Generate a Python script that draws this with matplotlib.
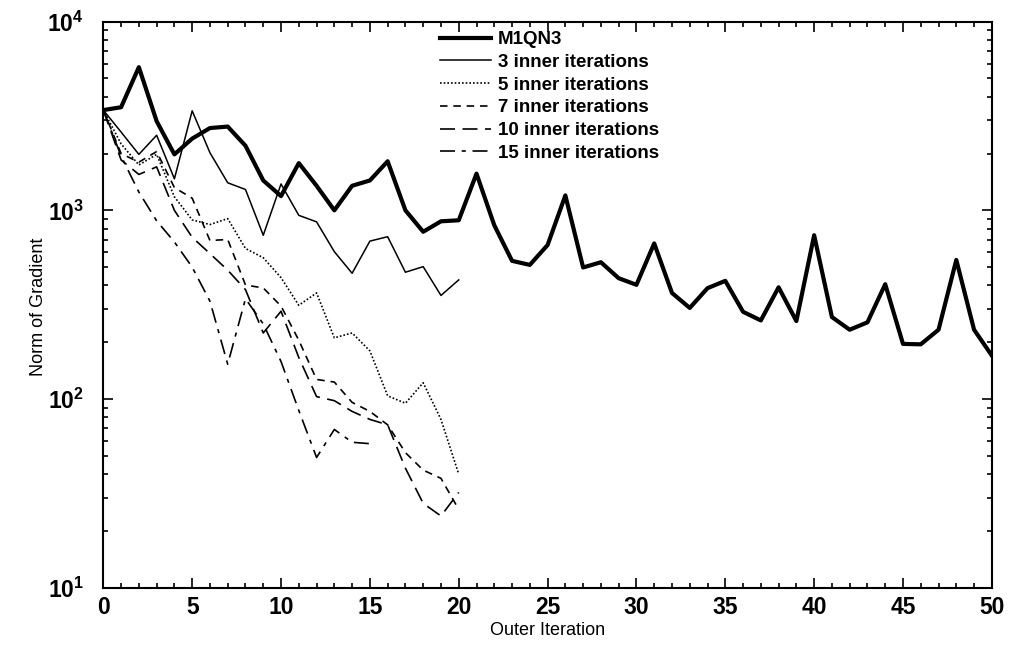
import matplotlib
matplotlib.use("Agg")
import matplotlib.pyplot as plt
from matplotlib.ticker import MultipleLocator, FixedLocator, LogLocator, NullFormatter

plt.rcParams['font.family'] = ['Liberation Sans', 'DejaVu Sans']
plt.rcParams['mathtext.fontset'] = 'custom'
plt.rcParams['mathtext.rm'] = 'Liberation Sans:bold'
plt.rcParams['mathtext.bf'] = 'Liberation Sans:bold'

# values (norm of gradient per outer iteration)
m1qn3 = [3400, 3520, 5740, 2970, 1980, 2400, 2730, 2780, 2200, 1440,
         1190, 1780, 1350, 1000, 1350, 1440, 1820, 1000, 770, 875,
         886, 1565, 834, 540, 514, 655, 1200, 498, 531, 437,
         403, 668, 365, 304, 387, 423, 290, 261, 391, 259,
         738, 272, 233, 255, 406, 196, 195, 233, 546, 233, 170]
inner3 = [3400, 2600, 1980, 2500, 1470, 3370, 2020, 1400, 1290, 738,
          1380, 941, 869, 604, 464, 687, 725, 470, 503, 354, 428]
inner5 = [3400, 2250, 1740, 1980, 1180, 890, 841, 904, 628, 561,
          440, 314, 365, 211, 224, 180, 104, 95, 122, 78, 40]
inner7 = [3400, 2000, 1800, 2050, 1320, 1160, 692, 701, 402, 388,
          311, 205, 127, 123, 96, 86, 73, 52, 42, 38, 26]
inner10 = [3400, 1850, 1550, 1700, 1000, 720, 590, 482, 380, 224,
           292, 166, 103, 98, 86, 78, 73, 43, 28, 24, 32]
inner15 = [3400, 1940, 1250, 880, 680, 500, 330, 153, 340, 250,
           158, 87, 49, 69, 59, 58]

labels = ['M1QN3', '3 inner iterations', '5 inner iterations',
          '7 inner iterations', '10 inner iterations', '15 inner iterations']

fig = plt.figure(figsize=(10.09, 6.45), dpi=100)
ax = fig.add_axes([0.1024, 0.0888, 0.8806, 0.8776])

ax.plot(range(len(m1qn3)), m1qn3, color='black', lw=3.0, label=labels[0])
ax.plot(range(len(inner3)), inner3, color='black', lw=1.1, label=labels[1])
ax.plot(range(len(inner5)), inner5, color='black', lw=1.2, dashes=(1, 1.2), label=labels[2])
ax.plot(range(len(inner7)), inner7, color='black', lw=1.2, dashes=(4.5, 3.5), label=labels[3])
ax.plot(range(len(inner10)), inner10, color='black', lw=1.2, dashes=(9, 4.5), label=labels[4])
ax.plot(range(len(inner15)), inner15, color='black', lw=1.2, dashes=(9, 4, 2.5, 4), label=labels[5])

ax.set_yscale('log')
ax.set_xlim(0, 50)
ax.set_ylim(10, 1e4)

ax.xaxis.set_major_locator(MultipleLocator(5))
ax.xaxis.set_minor_locator(MultipleLocator(1))
ax.yaxis.set_major_locator(FixedLocator([10, 100, 1000, 10000]))
ax.yaxis.set_minor_locator(LogLocator(base=10, subs=range(2, 10)))
ax.yaxis.set_minor_formatter(NullFormatter())
ax.set_yticklabels([r'$10^{1}$', r'$10^{2}$', r'$10^{3}$', r'$10^{4}$'])

ax.tick_params(which='both', direction='in', top=True, right=True, width=1.2)
ax.tick_params(which='major', length=7, labelsize=16.5)
ax.tick_params(axis='y', which='major', pad=14)
ax.tick_params(axis='x', which='major', pad=6)
ax.tick_params(which='minor', length=3.5)
for lab in ax.get_xticklabels():
    lab.set_fontweight('bold')
for sp in ax.spines.values():
    sp.set_linewidth(1.5)

ax.set_xlabel('Outer Iteration', fontsize=13, labelpad=2)
ax.set_ylabel('Norm of Gradient', fontsize=13)
ax.yaxis.set_label_coords(-0.063, 0.496)

leg = ax.legend(loc='upper left', bbox_to_anchor=(0.368, 1.0), frameon=False,
                fontsize=13.5, handlelength=2.75, handletextpad=0.35,
                labelspacing=0.3, borderaxespad=0.1)
for t in leg.get_texts():
    t.set_fontweight('bold')

fig.savefig('out.png', dpi=100)
